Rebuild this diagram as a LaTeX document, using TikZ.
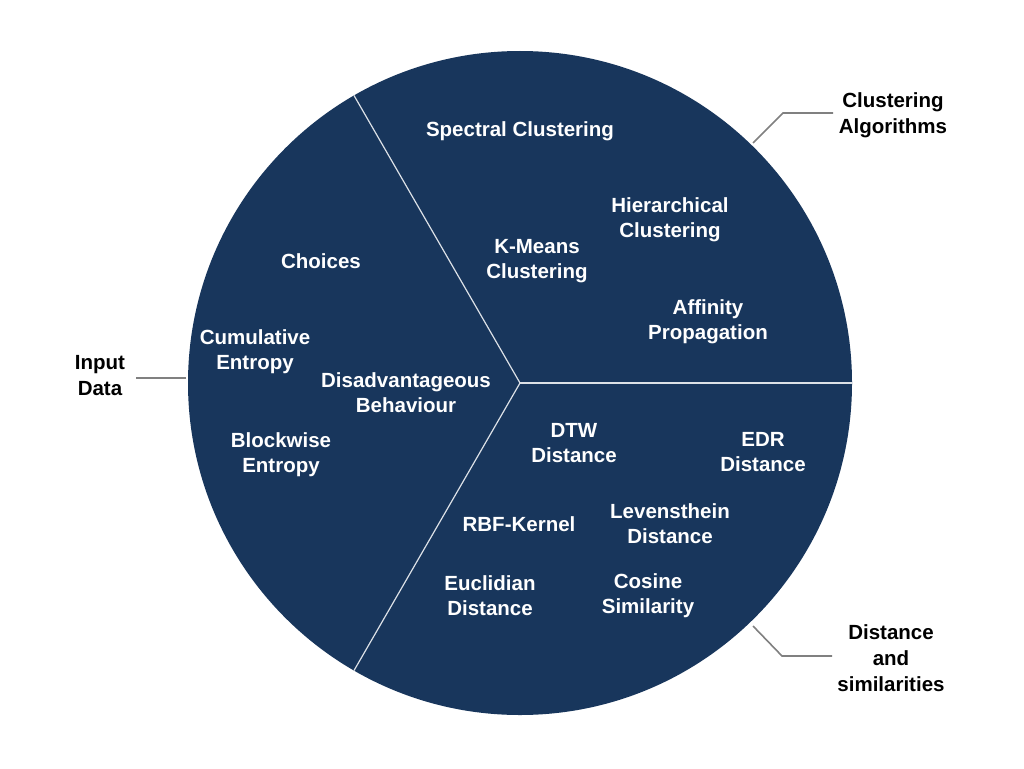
\documentclass[tikz,border=0pt]{standalone}
\usepackage{fontspec}
\setmainfont{Liberation Sans}
\usetikzlibrary{calc}
\definecolor{pienavy}{RGB}{24,54,92}
\definecolor{leadgray}{RGB}{128,128,128}

\tikzset{
  inlabel/.style={text=white, font=\fontsize{20.5}{25}\selectfont\bfseries, align=center, inner sep=0pt},
  outlabel/.style={text=black, font=\fontsize{20.5}{26}\selectfont\bfseries, align=center, inner sep=0pt},
  leader/.style={draw=leadgray, line width=1.6pt}
}

\begin{document}
\begin{tikzpicture}[x=1pt,y=-1pt]
            \useasboundingbox (0,0) rectangle (1024,768);
            \fill[white] (0,0) rectangle (1024,768);
            % the pie
            \coordinate (c) at (520,383);
            \fill[pienavy] (c) circle (332);
            \foreach \a in {0, 120, 240}
                \draw[white!85!pienavy, line width=1.2pt] (c) -- ++(\a:332 and -332);
            % clustering algorithms
            \node[inlabel] (spectral) at (520,131) {Spectral Clustering};
            \node[inlabel] (hier) at (670,220) {Hierarchical\\Clustering};
            \node[inlabel] (kmeans) at (537,261) {K-Means\\Clustering};
            \node[inlabel] (affinity) at (708,322) {Affinity\\Propagation};
            % input data
            \node[inlabel] (choices) at (321,261) {Choices};
            \node[inlabel] (cumul) at (255,352) {Cumulative\\Entropy};
            \node[inlabel] (disadv) at (406,393) {Disadvantageous\\Behaviour};
            \node[inlabel] (block) at (281,455) {Blockwise\\Entropy};
            % distances
            \node[inlabel] (dtw) at (574,443) {DTW\\Distance};
            \node[inlabel] (edr) at (763,452) {EDR\\Distance};
            \node[inlabel] (leven) at (670,524) {Levensthein\\Distance};
            \node[inlabel] (rbf) at (519,524) {RBF-Kernel};
            \node[inlabel] (eucl) at (490,596) {Euclidian\\Distance};
            \node[inlabel] (cosine) at (648,596) {Cosine\\Similarity};
            % outer labels
            \node[outlabel] (clust) at (893,115) {Clustering\\Algorithms};
            \node[outlabel] (input) at (100,376) {Input\\Data};
            \node[outlabel] (dist) at (891,658) {Distance\\and\\similarities};
            \coordinate (clustA) at (753,143);
            \coordinate (clustB) at (783,113);
            \coordinate (clustC) at (833,113);
            \coordinate (distA) at (753,626);
            \coordinate (distB) at (782,656);
            \coordinate (distC) at (832,656);
            \coordinate (inputA) at (186,378);
            \coordinate (inputB) at (136,378);
            \draw[leader] (clustA) -- (clustB) -- (clustC);
            \draw[leader] (distA) -- (distB) -- (distC);
            \draw[leader] (inputA) -- (inputB);
        \end{tikzpicture}
\end{document}
